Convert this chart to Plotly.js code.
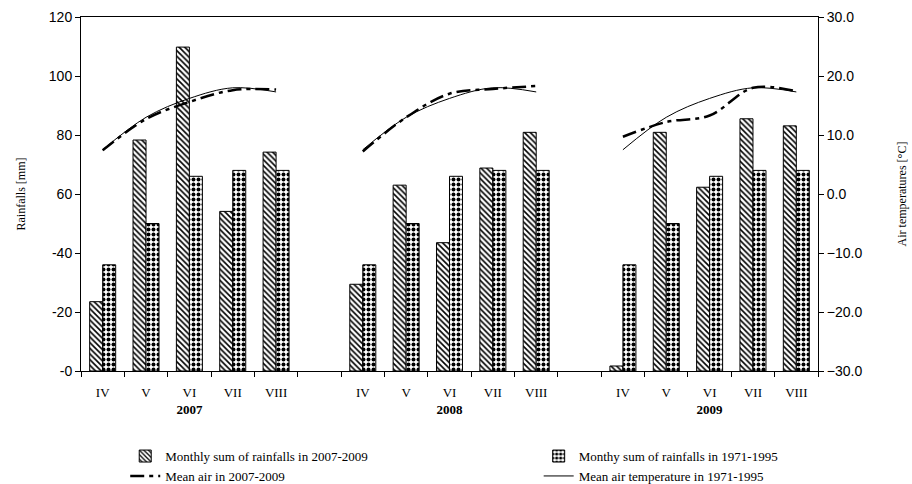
<!DOCTYPE html>
<html>
<head>
<meta charset="utf-8">
<script src="https://cdn.plot.ly/plotly-3.0.1.min.js"></script>
<style>
  html, body { margin: 0; padding: 0; background: #fff; }
  #chart { width: 912px; height: 484px; }
</style>
</head>
<body>
<div id="chart"></div>
<script>
// ---- data ----
const months = ["IV", "V", "VI", "VII", "VIII"];
const years = ["2007", "2008", "2009"];
const rain2007 = [23.5, 78.3, 109.8, 54.1, 74.2];
const rain2008 = [29.4, 63.0, 43.5, 68.8, 80.9];
const rain2009 = [1.7, 80.9, 62.3, 85.5, 83.1];
const rainNorm = [36.0, 50.0, 66.0, 68.0, 68.0];
const temp2007 = [7.4, 12.7, 15.6, 17.6, 17.7];
const temp2008 = [7.2, 13.0, 17.0, 17.8, 18.3];
const temp2009 = [9.7, 12.2, 13.3, 18.0, 17.4];
const tempNorm = [7.5, 13.0, 16.2, 18.0, 17.3];
const rainTickVals = [0, 20, 40, 60, 80, 100, 120];
const rainTickText = ["-0", "-20", "-40", "60", "80", "100", "120"];
const tempTickVals = [-30, -20, -10, 0, 10, 20, 30];

const names = {
  rain: "Monthly sum of rainfalls in 2007-2009",
  norm: "Monthy sum of rainfalls in 1971-1995",
  temp: "Mean air in 2007-2009",
  tnorm: "Mean air temperature in 1971-1995"
};

// ---- build slot positions (5 months + 1 empty slot per year) ----
const rainByYear = [rain2007, rain2008, rain2009];
const tempByYear = [temp2007, temp2008, temp2009];
const slotsPerYear = months.length + 1;
const totalSlots = years.length * slotsPerYear - 1;

const barX = [], rainY = [], normY = [];
const lineX = [], tempY = [], tnormY = [];
const tickVals = [], tickText = [];
years.forEach((yr, yi) => {
  months.forEach((m, mi) => {
    const s = yi * slotsPerYear + mi;
    barX.push(s);
    rainY.push(rainByYear[yi][mi]);
    normY.push(rainNorm[mi]);
    lineX.push(s);
    tempY.push(tempByYear[yi][mi]);
    tnormY.push(tempNorm[mi]);
    tickVals.push(s);
    tickText.push(mi === 2 ? m + "<br><b>" + yr + "</b>" : m);
  });
  if (yi < years.length - 1) {
    lineX.push(yi * slotsPerYear + months.length);
    tempY.push(null);
    tnormY.push(null);
  }
});
const boundaries = [];
for (let i = 0; i <= totalSlots; i++) boundaries.push(i - 0.5);

const serif = "Liberation Serif, Times New Roman, serif";
const sans = "Liberation Sans, Arial, sans-serif";

const traces = [
  {
    type: "bar", name: names.rain, x: barX, y: rainY, legend: "legend",
    marker: {
      color: "#ffffff",
      line: { color: "#000000", width: 1 },
      pattern: { shape: "\\", fgcolor: "#000000", bgcolor: "#ffffff", size: 4, solidity: 0.4 }
    }
  },
  {
    type: "bar", name: names.norm, x: barX, y: normY, legend: "legend2",
    marker: {
      color: "#ffffff",
      line: { color: "#000000", width: 1 },
      pattern: { shape: ".", fgcolor: "#000000", bgcolor: "#ffffff", size: 5, solidity: 0.5 }
    }
  },
  {
    type: "scatter", mode: "lines", name: names.temp, x: lineX, y: tempY, yaxis: "y2", legend: "legend",
    connectgaps: false,
    line: { color: "#000000", width: 2.5, dash: "14px,5px,4px,5px", shape: "spline", smoothing: 1 }
  },
  {
    type: "scatter", mode: "lines", name: names.tnorm, x: lineX, y: tnormY, yaxis: "y2", legend: "legend2",
    connectgaps: false,
    line: { color: "#000000", width: 1, shape: "spline", smoothing: 1 }
  }
];

const legendBase = {
  orientation: "v", xanchor: "left", y: -0.198, yanchor: "top",
  font: { family: serif, size: 13, color: "#000" },
  traceorder: "normal", tracegroupgap: 0, bgcolor: "rgba(0,0,0,0)", borderwidth: 0
};

const layout = {
  width: 912, height: 484,
  margin: { l: 81, r: 94, t: 17, b: 113, autoexpand: false },
  paper_bgcolor: "#ffffff", plot_bgcolor: "#ffffff",
  barmode: "group", bargap: 0.4, bargroupgap: 0,
  showlegend: true,
  legend: Object.assign({}, legendBase, { x: 0.06 }),
  legend2: Object.assign({}, legendBase, { x: 0.621 }),
  xaxis: {
    range: [-0.5, totalSlots - 0.5],
    tickmode: "array", tickvals: tickVals, ticktext: tickText,
    ticks: "", ticklabelstandoff: 9,
    tickfont: { family: serif, size: 13, color: "#000" },
    showline: true, linecolor: "#000", linewidth: 1, mirror: true,
    showgrid: false, zeroline: false,
    minor: { tickmode: "array", tickvals: boundaries, ticks: "outside", ticklen: 5, tickcolor: "#000", tickwidth: 1, showgrid: false }
  },
  yaxis: {
    range: [0, 120],
    tickmode: "array", tickvals: rainTickVals, ticktext: rainTickText,
    ticks: "outside", ticklen: 5, tickcolor: "#000",
    tickfont: { family: sans, size: 14, color: "#000" },
    showline: true, linecolor: "#000", linewidth: 1,
    showgrid: false, zeroline: false,
    title: { text: "Rainfalls [mm]", font: { family: serif, size: 12, color: "#000" }, standoff: 20 }
  },
  yaxis2: {
    range: [-30, 30], overlaying: "y", side: "right",
    tickmode: "array", tickvals: tempTickVals, tickformat: ".1f",
    ticks: "outside", ticklen: 5, tickcolor: "#000",
    tickfont: { family: sans, size: 14, color: "#000" },
    showline: true, linecolor: "#000", linewidth: 1,
    showgrid: false, zeroline: false,
    title: { text: "Air temperatures [°C]", font: { family: serif, size: 12, color: "#000" }, standoff: 36 }
  }
};

Plotly.newPlot("chart", traces, layout, { displayModeBar: false, staticPlot: true });
</script>
</body>
</html>
